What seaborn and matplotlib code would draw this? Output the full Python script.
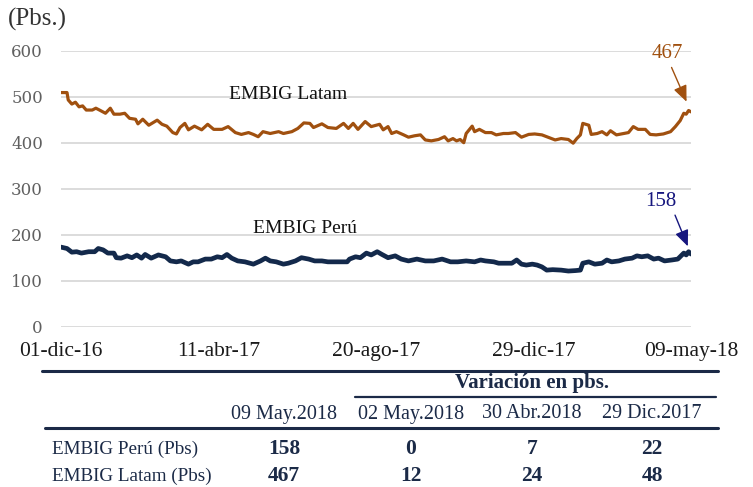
import matplotlib
matplotlib.use("Agg")
import matplotlib.pyplot as plt
from matplotlib.lines import Line2D
import seaborn as sns
import pandas as pd

sns.set_theme(style="white")
plt.rcParams["font.family"] = ["Liberation Serif", "DejaVu Serif"]

# dias desde 01-dic-16 y spread en pbs
latam_dias = [0, 5, 6, 9, 12, 15, 18, 21, 26, 29, 32, 37, 41, 44, 49, 53, 57, 62, 64, 68,
              73, 80, 84, 88, 93, 96, 99, 103, 106, 111, 117, 122, 127, 134, 139, 145, 150,
              156, 160, 164, 168, 174, 181, 185, 192, 197, 202, 207, 210, 217, 222, 229, 235,
              239, 243, 247, 253, 258, 265, 268, 272, 275, 279, 285, 289, 294, 299, 303, 308,
              314, 319, 322, 326, 329, 332, 335, 337, 342, 344, 348, 353, 358, 362, 368, 372,
              378, 383, 389, 394, 400, 405, 411, 416, 422, 426, 429, 432, 434, 439, 441, 446,
              450, 454, 457, 462, 468, 472, 476, 480, 486, 490, 495, 501, 507, 511, 515, 518,
              520, 522, 524]
latam_pbs = [509, 509, 493, 484, 488, 478, 480, 471, 471, 475, 471, 464, 475, 462, 462, 464,
             453, 451, 441, 451, 438, 449, 440, 436, 422, 419, 433, 442, 428, 436, 428, 440,
             429, 429, 435, 422, 418, 422, 418, 413, 424, 420, 424, 420, 424, 431, 443, 442,
             433, 441, 433, 431, 442, 431, 442, 429, 446, 435, 440, 428, 435, 420, 424, 417,
             412, 415, 417, 406, 404, 407, 413, 404, 409, 404, 407, 400, 420, 436, 424, 429,
             422, 422, 417, 420, 420, 422, 412, 418, 419, 417, 412, 406, 409, 407, 399, 409,
             417, 442, 438, 418, 420, 424, 417, 426, 417, 420, 422, 435, 429, 429, 418, 417,
             419, 424, 435, 448, 464, 462, 470, 467]

peru_dias = [0, 5, 9, 13, 17, 23, 28, 31, 35, 39, 44, 46, 50, 55, 59, 63, 67, 70, 75, 81,
             87, 91, 96, 100, 106, 110, 114, 120, 125, 130, 134, 138, 142, 147, 153, 160, 166,
             170, 174, 179, 185, 189, 195, 200, 206, 211, 217, 222, 228, 233, 238, 240, 245,
             249, 254, 258, 263, 267, 272, 278, 283, 289, 296, 303, 310, 317, 324, 330, 337,
             344, 349, 353, 360, 364, 369, 375, 379, 383, 387, 392, 396, 400, 404, 409, 416,
             422, 428, 432, 434, 439, 444, 450, 454, 458, 464, 469, 475, 479, 483, 488, 493,
             497, 502, 508, 513, 518, 520, 522, 524]
peru_pbs = [173, 170, 162, 163, 160, 163, 163, 170, 167, 160, 160, 150, 149, 154, 150, 156,
            149, 157, 149, 156, 152, 143, 141, 143, 136, 141, 141, 147, 147, 152, 150, 157,
            149, 143, 141, 136, 143, 149, 143, 141, 136, 138, 143, 150, 147, 143, 143, 141,
            141, 141, 141, 147, 152, 150, 160, 156, 163, 157, 150, 154, 147, 143, 147, 143,
            143, 147, 141, 141, 143, 141, 145, 143, 141, 138, 138, 138, 145, 136, 134, 136,
            134, 130, 123, 124, 123, 121, 122, 123, 138, 141, 136, 138, 145, 141, 143, 147,
            149, 154, 152, 154, 147, 149, 143, 145, 147, 160, 156, 163, 158]

inicio = pd.Timestamp("2016-12-01")
ticks_fechas = ["2016-12-01", "2017-04-11", "2017-08-20", "2017-12-29", "2018-05-09"]
ticks_etiquetas = ["01-dic-16", "11-abr-17", "20-ago-17", "29-dic-17", "09-may-18"]

tabla_series = ["EMBIG Perú (Pbs)", "EMBIG Latam (Pbs)"]
tabla_cols = ["09 May.2018", "02 May.2018", "30 Abr.2018", "29 Dic.2017"]
tabla_vals = [[158, 0, 7, 22], [467, 12, 24, 48]]

COL_LATAM = "#A0500F"
COL_PERU = "#13294B"
COL_158 = "#16167E"
COL_TABLA = "#1B2A47"

latam = pd.DataFrame({"fecha": inicio + pd.to_timedelta(latam_dias, unit="D"), "pbs": latam_pbs})
peru = pd.DataFrame({"fecha": inicio + pd.to_timedelta(peru_dias, unit="D"), "pbs": peru_pbs})

W, H = 753, 487
fig = plt.figure(figsize=(W / 100, H / 100), dpi=100)
ax = fig.add_axes([61 / W, 1 - 326.7 / H, 630 / W, 276 / H])

sns.lineplot(data=latam, x="fecha", y="pbs", color=COL_LATAM, lw=2.3, ax=ax)
sns.lineplot(data=peru, x="fecha", y="pbs", color=COL_PERU, lw=3.4, ax=ax)

# ejes
ax.set_xlim(pd.Timestamp(ticks_fechas[0]), pd.Timestamp(ticks_fechas[-1]))
ax.set_ylim(0, 600)
ax.set_yticks(range(0, 601, 100))
ax.set_xticks([pd.Timestamp(f) for f in ticks_fechas])
ax.set_xticklabels(ticks_etiquetas)
ax.set_xlabel("")
ax.set_ylabel("")
for s in ax.spines.values():
    s.set_visible(False)
ax.yaxis.grid(True, color="#d9d9d9", lw=1.3)
ax.xaxis.grid(False)
ax.tick_params(axis="y", length=0, pad=13, labelcolor="#606060")
ax.tick_params(axis="x", length=0, pad=11, labelsize=15.5, labelcolor="#1a1a1a")
for lbl in ax.get_yticklabels():
    lbl.set_family(["DejaVu Serif"])
    lbl.set_fontsize(12)

# etiquetas de las series
ax.text(inicio + pd.Timedelta(days=189), 504, "EMBIG Latam", ha="center", va="center",
        fontsize=14, color="#111111")
ax.text(inicio + pd.Timedelta(days=203), 214, "EMBIG Perú", ha="center", va="center",
        fontsize=14, color="#111111")

# anotaciones del ultimo dato
fin_l = (latam["fecha"].iloc[-1], latam["pbs"].iloc[-1])
fin_p = (peru["fecha"].iloc[-1], peru["pbs"].iloc[-1])
flecha = "-|>,head_length=0.75,head_width=0.32"
ax.annotate("", xy=fin_l, xytext=(-14, 32), textcoords="offset points",
            arrowprops=dict(arrowstyle=flecha, color=COL_LATAM, lw=1, shrinkA=0, shrinkB=8,
                            mutation_scale=13))
ax.annotate(str(latam_pbs[-1]), xy=fin_l, xytext=(-17, 42), textcoords="offset points",
            ha="center", va="center", fontsize=15, color=COL_LATAM)
ax.annotate("", xy=fin_p, xytext=(-11.5, 28), textcoords="offset points",
            arrowprops=dict(arrowstyle=flecha, color=COL_158, lw=1, shrinkA=0, shrinkB=6,
                            mutation_scale=13))
ax.annotate(str(peru_pbs[-1]), xy=fin_p, xytext=(-22, 37.5), textcoords="offset points",
            ha="center", va="center", fontsize=15, color=COL_158)

fig.text(8 / W, 1 - 19 / H, "(Pbs.)", fontsize=18, color="#333333", ha="left", va="center")

# tabla inferior
def fy(py):
    return 1 - py / H

def hline(py, x0, x1, lw, color=COL_TABLA):
    fig.add_artist(Line2D([x0 / W, x1 / W], [fy(py), fy(py)], lw=lw, color=color,
                          transform=fig.transFigure))

hline(371, 42, 718, 2.2)
hline(397, 355, 716, 1.6)
hline(428, 45, 718, 2.2)

col_x = [284, 411, 532, 652]
fig.text(532 / W, fy(383), "Variación en pbs.", ha="center", va="center", fontsize=15,
         fontweight="bold", color=COL_TABLA)
for cx, c in zip(col_x, tabla_cols):
    fig.text(cx / W, fy(414), c, ha="center", va="center", fontsize=14.5, color=COL_TABLA)
for ry, nombre, vals in zip([449, 476], tabla_series, tabla_vals):
    fig.text(52 / W, fy(ry), nombre, ha="left", va="center", fontsize=13.8, color=COL_TABLA)
    for cx, v in zip(col_x, vals):
        fig.text(cx / W, fy(ry), str(v), ha="center", va="center", fontsize=15.5,
                 fontweight="bold", color=COL_TABLA)

fig.savefig("out.png", dpi=100)
